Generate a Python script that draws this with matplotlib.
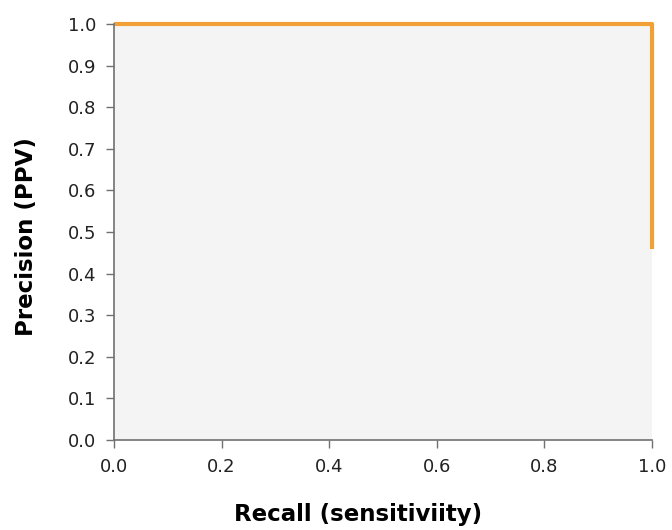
import matplotlib
matplotlib.use("Agg")
import matplotlib.pyplot as plt

# Precision-recall curve points
recall = [0.0, 1.0, 1.0]
precision = [1.0, 1.0, 0.46]
ticks = [0.0, 0.1, 0.2, 0.3, 0.4, 0.5, 0.6, 0.7, 0.8, 0.9, 1.0]
xticks = [0.0, 0.2, 0.4, 0.6, 0.8, 1.0]

fig = plt.figure(figsize=(6.72, 5.30), dpi=100)
ax = fig.add_axes([114 / 672, 1 - 440 / 530, (652 - 114) / 672, (440 - 24) / 530])
ax.set_facecolor("#f4f4f4")

ax.plot(recall, precision, color="#f0a035", linewidth=3, solid_capstyle="butt", clip_on=False)

ax.set_xlim(0, 1)
ax.set_ylim(0, 1)
ax.set_xticks(xticks)
ax.set_yticks(ticks)
ax.set_xticklabels([f"{t:.1f}" for t in xticks])
ax.set_yticklabels([f"{t:.1f}" for t in ticks])

for side in ["top", "right"]:
    ax.spines[side].set_visible(False)
for side in ["left", "bottom"]:
    ax.spines[side].set_color("#707070")
    ax.spines[side].set_linewidth(1.2)

ax.tick_params(direction="out", length=6, width=1, color="#707070",
               labelsize=13, labelcolor="#222222", pad=7)

ax.set_xlabel("Recall (sensitiviity)", fontsize=16.5, fontweight="bold", va="center")
ax.set_ylabel("Precision (PPV)", fontsize=16.5, fontweight="bold", va="center")
# label positions, offset like the original
ax.xaxis.set_label_coords(0.4535, -0.178)
ax.yaxis.set_label_coords(-0.162, 0.488)

fig.savefig("out.png", dpi=100)
